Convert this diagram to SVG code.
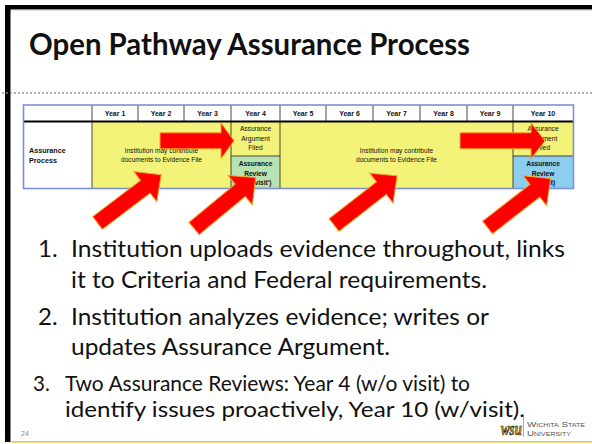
<svg xmlns="http://www.w3.org/2000/svg" width="592" height="444" viewBox="0 0 592 444">
<style>
.tb{font-family:"Liberation Sans",Arial,sans-serif;font-size:6.6px;fill:#111;text-anchor:middle}
.hd{font-family:"Liberation Sans",Arial,sans-serif;font-size:7px;font-weight:bold;fill:#111;text-anchor:middle}
.bd{font-weight:bold}
.body{font-family:Lato,"Open Sans",sans-serif;font-size:24px;fill:#111}
.body3{font-family:Lato,"Open Sans",sans-serif;font-size:20.5px;fill:#111}
.grid{stroke:#333;stroke-width:0.9;fill:none}
.arr{fill:#ff0000;stroke:#f5a623;stroke-width:1}
.uni{font-family:"Liberation Sans",Arial,sans-serif;font-size:7px;font-variant:small-caps;fill:#555}
</style>
<defs>
<path id="diag" d="M0,-8 L60,-8 L60,-19 L80,0 L60,19 L60,8 L0,8 Z"/>
</defs>
<rect x="0" y="0" width="592" height="444" fill="#ffffff"/>
<g id="frame">
<rect x="5" y="5" width="587" height="4.5" fill="#000"/>
<rect x="5" y="9.5" width="587" height="0.8" fill="#999"/>
<rect x="5" y="5" width="5.5" height="437" fill="#000"/>
<rect x="10.5" y="441" width="581.5" height="1.6" fill="#f0c830"/>
</g>
<g id="title">
<text x="29" y="55" font-family="Lato,'Open Sans',sans-serif" font-weight="bold" font-size="30" fill="#111" textLength="441" lengthAdjust="spacingAndGlyphs">Open Pathway Assurance Process</text>
<line x1="3" y1="93" x2="592" y2="93" stroke="#8a8a8a" stroke-width="1.8" stroke-linecap="round" stroke-dasharray="0 4"/>
</g>
<g id="table">
<rect x="23.5" y="105" width="550" height="83.5" fill="#fff"/>
<rect x="92" y="122" width="139" height="66.5" fill="#f3f37a"/>
<rect x="231" y="122" width="49" height="34" fill="#f3f37a"/>
<rect x="231" y="156" width="49" height="32.5" fill="#b9e2b2"/>
<rect x="280" y="122" width="233" height="66.5" fill="#f3f37a"/>
<rect x="513" y="122" width="60.5" height="34" fill="#f3f37a"/>
<rect x="513" y="156" width="60.5" height="32.5" fill="#8ccdf0"/>
<g class="grid">
<line x1="92" y1="105" x2="92" y2="188.5"/>
<line x1="138" y1="105" x2="138" y2="121.5"/>
<line x1="184" y1="105" x2="184" y2="121.5"/>
<line x1="231" y1="105" x2="231" y2="188.5"/>
<line x1="280" y1="105" x2="280" y2="188.5"/>
<line x1="326" y1="105" x2="326" y2="121.5"/>
<line x1="373" y1="105" x2="373" y2="121.5"/>
<line x1="420" y1="105" x2="420" y2="121.5"/>
<line x1="467" y1="105" x2="467" y2="121.5"/>
<line x1="513" y1="105" x2="513" y2="188.5"/>
<line x1="231" y1="156" x2="280" y2="156"/>
<line x1="513" y1="156" x2="573.5" y2="156"/>
</g>
<line x1="23.5" y1="121.5" x2="573.5" y2="121.5" stroke="#000" stroke-width="2"/>
<rect x="23.5" y="105" width="550" height="83.5" fill="none" stroke="#7d8fd6" stroke-width="1.6"/>
<text class="hd" x="115" y="116">Year 1</text>
<text class="hd" x="161" y="116">Year 2</text>
<text class="hd" x="207.5" y="116">Year 3</text>
<text class="hd" x="255.5" y="116">Year 4</text>
<text class="hd" x="303" y="116">Year 5</text>
<text class="hd" x="349.5" y="116">Year 6</text>
<text class="hd" x="396.5" y="116">Year 7</text>
<text class="hd" x="443.5" y="116">Year 8</text>
<text class="hd" x="490" y="116">Year 9</text>
<text class="hd" x="543" y="116">Year 10</text>
<text class="hd" x="29" y="152.5" style="text-anchor:start;font-size:7.2px">Assurance</text>
<text class="hd" x="29" y="163" style="text-anchor:start;font-size:7.2px">Process</text>
<text class="tb" x="161.5" y="153">Institution may contribute</text>
<text class="tb" x="161.5" y="162">documents to Evidence File</text>
<text class="tb" x="396.5" y="153">Institution may contribute</text>
<text class="tb" x="396.5" y="162">documents to Evidence File</text>
<text class="tb" x="255.5" y="131">Assurance</text>
<text class="tb" x="255.5" y="140.5">Argument</text>
<text class="tb" x="255.5" y="150">Filed</text>
<text class="tb bd" x="255.5" y="166">Assurance</text>
<text class="tb bd" x="255.5" y="175.5">Review</text>
<text class="tb bd" x="255.5" y="185">(w/o visit')</text>
<text class="tb" x="543" y="131">Assurance</text>
<text class="tb" x="543" y="140.5">Argument</text>
<text class="tb" x="543" y="150">Filed</text>
<text class="tb bd" x="543" y="166">Assurance</text>
<text class="tb bd" x="543" y="175.5">Review</text>
<text class="tb bd" x="543" y="185">(w/visit)</text>
</g>
<g id="arrows">
<polygon class="arr" points="160,132.8 221,132.8 221,123 234,140.8 221,158.6 221,148.8 160,148.8"/>
<polygon class="arr" points="460,132.8 531,132.8 531,123 545,140.8 531,158.6 531,148.8 460,148.8"/>
<use href="#diag" class="arr" transform="translate(97.5,223) rotate(-37.2)"/>
<use href="#diag" class="arr" transform="translate(194,228.5) rotate(-39.6)"/>
<use href="#diag" class="arr" transform="translate(334,225) rotate(-37.9)"/>
<use href="#diag" class="arr" transform="translate(487.5,227.5) rotate(-37.8)"/>
</g>
<g id="body">
<text class="body" x="38" y="257">1.</text>
<text class="body" x="71" y="257" textLength="494" lengthAdjust="spacingAndGlyphs">Institution uploads evidence throughout, links</text>
<text class="body" x="71" y="288" textLength="416" lengthAdjust="spacingAndGlyphs">it to Criteria and Federal requirements.</text>
<text class="body" x="38" y="325">2.</text>
<text class="body" x="71" y="325" textLength="418" lengthAdjust="spacingAndGlyphs">Institution analyzes evidence; writes or</text>
<text class="body" x="71" y="355" textLength="319" lengthAdjust="spacingAndGlyphs">updates Assurance Argument.</text>
<text class="body3" x="33" y="391">3.</text>
<text class="body3" x="65" y="391" textLength="405" lengthAdjust="spacingAndGlyphs">Two Assurance Reviews: Year 4 (w/o visit) to</text>
<text class="body3" x="65" y="417" textLength="460" lengthAdjust="spacingAndGlyphs">identify issues proactively, Year 10 (w/visit).</text>
</g>
<g id="footer">
<text x="21" y="436" font-family="'Liberation Sans',Arial,sans-serif" font-size="7" fill="#888">24</text>
<text transform="translate(501,435) scale(0.68,1)" x="0" y="0" font-family="'Liberation Serif','Times New Roman',serif" font-weight="bold" font-style="italic" font-size="19" fill="#c9a20e" stroke="#1a1a1a" stroke-width="0.7">wsu</text>
<line x1="523.5" y1="417" x2="523.5" y2="437" stroke="#999" stroke-width="0.8"/>
<text class="uni" x="527" y="426.5" textLength="58" lengthAdjust="spacingAndGlyphs">Wichita State</text>
<text class="uni" x="527" y="436" textLength="44" lengthAdjust="spacingAndGlyphs">University</text>
</g>
</svg>
